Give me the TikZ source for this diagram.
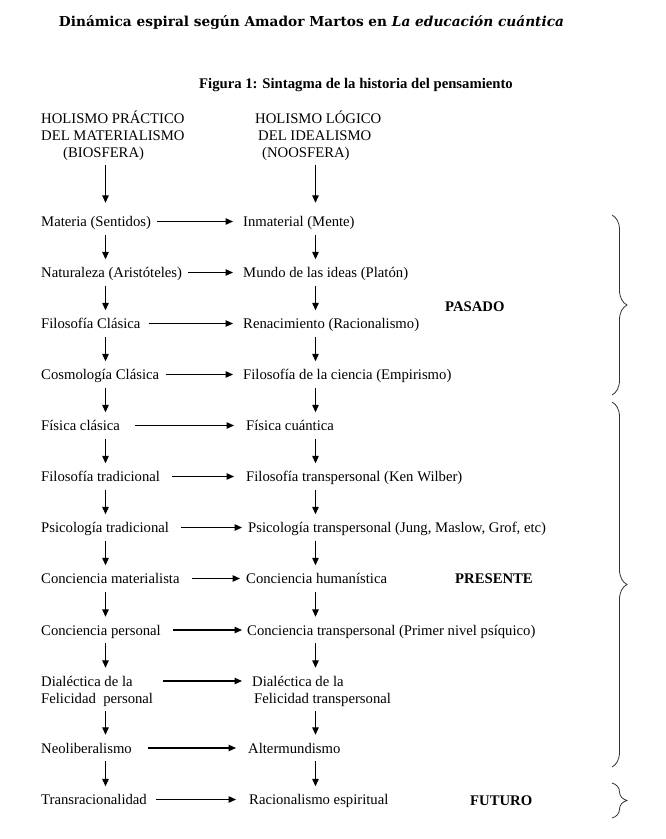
\documentclass[tikz,border=0pt]{standalone}
\usepackage{fontspec}
\setmainfont{Liberation Serif}
\newfontfamily\titlefont{DejaVu Serif}
\usetikzlibrary{arrows.meta,decorations.pathreplacing}

\begin{document}
\begin{tikzpicture}[x=1pt,y=-1pt,
  txt/.style={anchor=west, inner xsep=0pt, inner ysep=8pt, text height=10pt, text depth=0pt, font=\fontsize{14.7}{17}\selectfont},
  era/.style={txt, font=\fontsize{14.7}{17}\selectfont\bfseries},
  arr/.style={line width=1.2pt, -{Triangle[length=7.5pt,width=6.5pt]}},
  brc/.style={draw=black!80, line width=0.8pt, decorate, decoration={brace, amplitude=15pt}}]
\useasboundingbox (0,0) rectangle (665,839);
\node[font=\titlefont\bfseries\fontsize{13.7}{16}\selectfont] (ttl) at (311.5,23) {Dinámica espiral según Amador Martos en \textit{La educación cuántica}};
\node[font=\fontsize{14.7}{17}\selectfont\bfseries] (cap) at (356,85) {Figura 1: Sintagma de la historia del pensamiento};
\coordinate (cL) at (105.5,0);
\coordinate (cR) at (315.5,0);
% cabeceras
\node[txt] (hL1) at (41,118) {HOLISMO PRÁCTICO};
\node[txt] (hL2) at (41,135) {DEL MATERIALISMO};
\node[txt] (hL3) at (63,152) {(BIOSFERA)};
\node[txt] (hR1) at (255,118) {HOLISMO LÓGICO};
\node[txt] (hR2) at (258,135) {DEL IDEALISMO};
\node[txt] (hR3) at (262,152) {(NOOSFERA)};
% filas
\node[txt] (r1L) at (41,221.5) {Materia (Sentidos)};
\node[txt] (r1R) at (243,221.5) {Inmaterial (Mente)};
\node[txt] (r2L) at (41,272.5) {Naturaleza (Aristóteles)};
\node[txt] (r2R) at (243,272.5) {Mundo de las ideas (Platón)};
\node[txt] (r3L) at (41,323.5) {Filosofía Clásica};
\node[txt] (r3R) at (243,323.5) {Renacimiento (Racionalismo)};
\node[txt] (r4L) at (41,374.5) {Cosmología Clásica};
\node[txt] (r4R) at (243,374.5) {Filosofía de la ciencia (Empirismo)};
\node[txt] (r5L) at (41,425.5) {Física clásica};
\node[txt] (r5R) at (246,425.5) {Física cuántica};
\node[txt] (r6L) at (41,476.5) {Filosofía tradicional};
\node[txt] (r6R) at (246,476.5) {Filosofía transpersonal (Ken Wilber)};
\node[txt] (r7L) at (41,527.5) {Psicología tradicional};
\node[txt] (r7R) at (248,527.5) {Psicología transpersonal (Jung, Maslow, Grof, etc)};
\node[txt] (r8L) at (41,578.5) {Conciencia materialista};
\node[txt] (r8R) at (246,578.5) {Conciencia humanística};
\node[txt] (r9L) at (41,630) {Conciencia personal};
\node[txt] (r9R) at (247,630) {Conciencia transpersonal (Primer nivel psíquico)};
\node[txt] (r10L) at (41,681) {Dialéctica de la};
\node[txt] (r10Lb) at (41,698) {Felicidad\ \ personal};
\node[txt] (r10R) at (252,681) {Dialéctica de la};
\node[txt] (r10Rb) at (254,698) {Felicidad transpersonal};
\node[txt] (r11L) at (41,748) {Neoliberalismo};
\node[txt] (r11R) at (248,748) {Altermundismo};
\node[txt] (r12L) at (41,799.5) {Transracionalidad};
\node[txt] (r12R) at (249,799.5) {Racionalismo espiritual};
% etapas
\node[era] (pas) at (445,306) {PASADO};
\node[era] (pre) at (455,578) {PRESENTE};
\node[era] (fut) at (470,800) {FUTURO};
% flechas horizontales
\draw[arr, shorten <=6pt, shorten >=10pt] (r1L.east) -- (r1R.west);
\draw[arr, shorten <=6pt, shorten >=10pt] (r2L.east) -- (r2R.west);
\draw[arr, shorten <=8pt, shorten >=10pt] (r3L.east) -- (r3R.west);
\draw[arr, shorten <=7pt, shorten >=10pt] (r4L.east) -- (r4R.west);
\draw[arr, shorten <=15pt, shorten >=12pt] (r5L.east) -- (r5R.west);
\draw[arr, shorten <=12pt, shorten >=12pt] (r6L.east) -- (r6R.west);
\draw[arr, shorten <=12pt, shorten >=6pt] (r7L.east) -- (r7R.west);
\draw[arr, shorten <=12pt, shorten >=6pt] (r8L.east) -- (r8R.west);
\draw[arr, shorten <=12pt, shorten >=5pt] (r9L.east) -- (r9R.west);
\draw[arr, shorten <=30pt, shorten >=10pt] (r10L.east) -- (r10R.west);
\draw[arr, shorten <=16pt, shorten >=12pt] (r11L.east) -- (r11R.west);
\draw[arr, shorten <=9pt, shorten >=13pt] (r12L.east) -- (r12R.west);
% flechas verticales
\draw[arr, shorten >=5.5pt] (hL3.south -| cL) -- (r1L.north -| cL);
\draw[arr] (r1L.south -| cL) -- (r2L.north -| cL);
\draw[arr] (r2L.south -| cL) -- (r3L.north -| cL);
\draw[arr] (r3L.south -| cL) -- (r4L.north -| cL);
\draw[arr] (r4L.south -| cL) -- (r5L.north -| cL);
\draw[arr] (r5L.south -| cL) -- (r6L.north -| cL);
\draw[arr] (r6L.south -| cL) -- (r7L.north -| cL);
\draw[arr] (r7L.south -| cL) -- (r8L.north -| cL);
\draw[arr] (r8L.south -| cL) -- (r9L.north -| cL);
\draw[arr] (r9L.south -| cL) -- (r10L.north -| cL);
\draw[arr] (r10Lb.south -| cL) -- (r11L.north -| cL);
\draw[arr] (r11L.south -| cL) -- (r12L.north -| cL);
\draw[arr, shorten >=5.5pt] (hR3.south -| cR) -- (r1R.north -| cR);
\draw[arr] (r1R.south -| cR) -- (r2R.north -| cR);
\draw[arr] (r2R.south -| cR) -- (r3R.north -| cR);
\draw[arr] (r3R.south -| cR) -- (r4R.north -| cR);
\draw[arr] (r4R.south -| cR) -- (r5R.north -| cR);
\draw[arr] (r5R.south -| cR) -- (r6R.north -| cR);
\draw[arr] (r6R.south -| cR) -- (r7R.north -| cR);
\draw[arr] (r7R.south -| cR) -- (r8R.north -| cR);
\draw[arr] (r8R.south -| cR) -- (r9R.north -| cR);
\draw[arr] (r9R.south -| cR) -- (r10R.north -| cR);
\draw[arr] (r10Rb.south -| cR) -- (r11R.north -| cR);
\draw[arr] (r11R.south -| cR) -- (r12R.north -| cR);
% llaves
\draw[brc] (612,215) -- (612,395);
\draw[brc] (612,402) -- (612,767);
\draw[brc] (612,783) -- (612,818);
\end{tikzpicture}
\end{document}
